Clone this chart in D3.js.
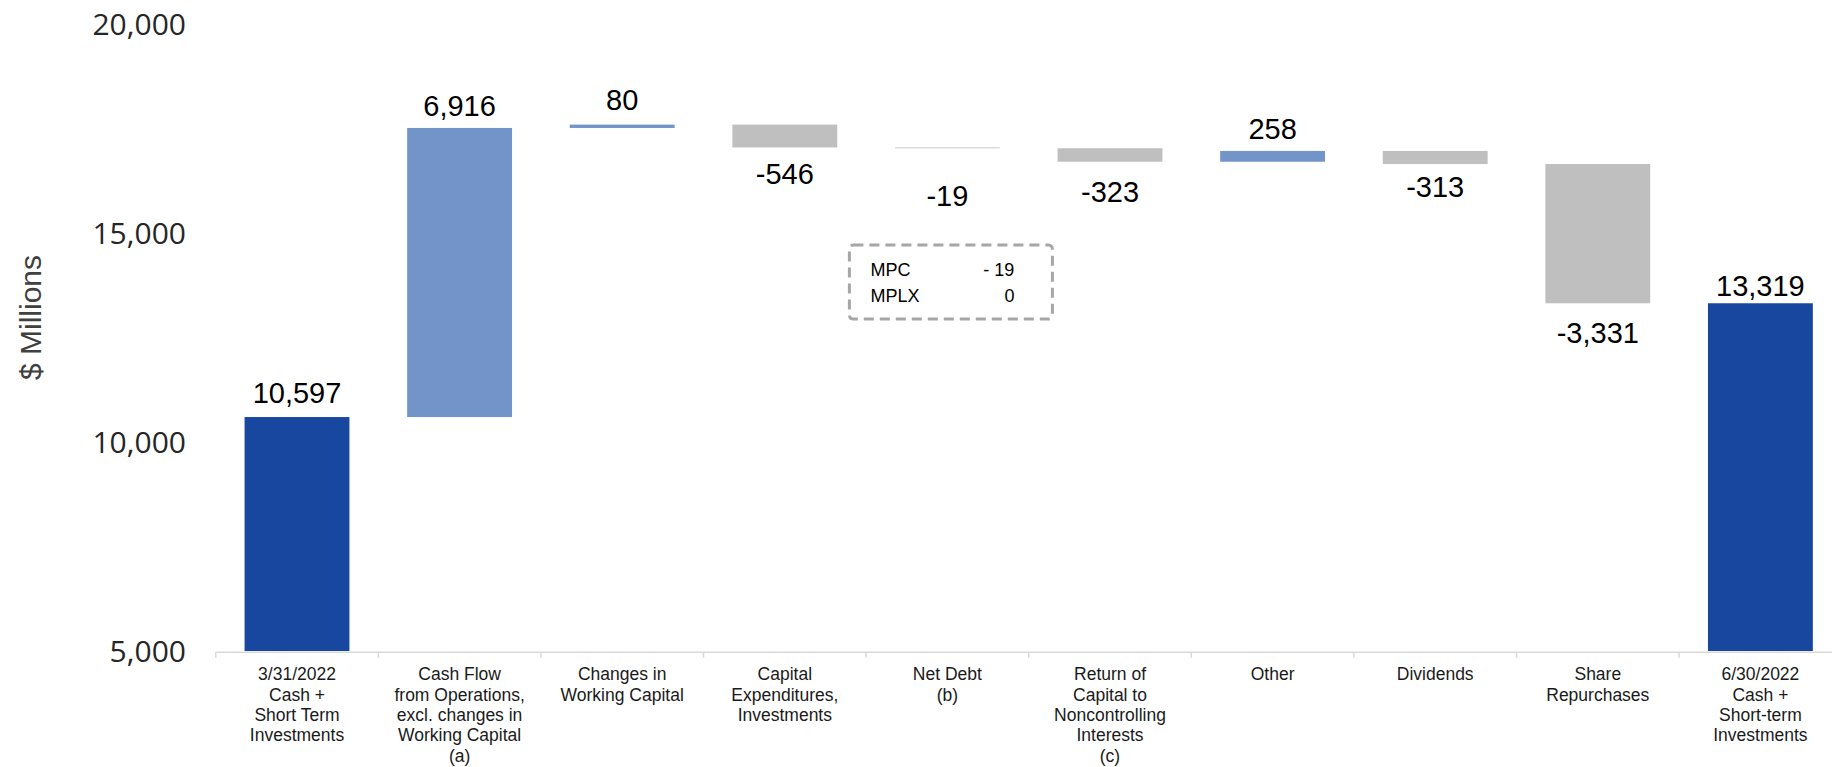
<!DOCTYPE html>
<html>
<head>
<meta charset="utf-8">
<script src="https://cdn.jsdelivr.net/npm/d3@7/dist/d3.min.js"></script>
<style>
  html, body { margin: 0; padding: 0; background: #ffffff; }
  svg { display: block; }
</style>
</head>
<body>
<svg id="chart" width="1832" height="767"></svg>
<script>
// Cash bridge, $ millions
const categoryLabels = [
  ["3/31/2022", "Cash +", "Short Term", "Investments"],
  ["Cash Flow", "from Operations,", "excl. changes in", "Working Capital", "(a)"],
  ["Changes in", "Working  Capital"],
  ["Capital", "Expenditures,", "Investments"],
  ["Net Debt", "(b)"],
  ["Return of", "Capital to", "Noncontrolling", "Interests", "(c)"],
  ["Other"],
  ["Dividends"],
  ["Share", "Repurchases"],
  ["6/30/2022", "Cash +", "Short-term", "Investments"]
];
const barKinds = ["total", "delta", "delta", "delta", "delta", "delta", "delta", "delta", "delta", "total"];
const barValues = [10597, 6916, 80, -546, -19, -323, 258, -313, -3331, 13319];
const yTickValues = [5000, 10000, 15000, 20000];
const netDebtRows = [["MPC", "- 19"], ["MPLX", "0"]];

const colors = { total: "#17479E", up: "#7294C8", down: "#BFBFBF" };

const svg = d3.select("#chart");

const fmt = d3.formatLocale({ decimal: ".", thousands: ",", grouping: [3], currency: ["$", ""], minus: "-" }).format(",");

const idx = d3.range(barValues.length);
const x = d3.scaleBand()
  .domain(idx)
  .range([215.7, 215.7 + 162.6 * idx.length])
  .paddingInner(0.355)
  .paddingOuter(0.1775);

const y = d3.scaleLinear().domain([5000, 20000]).range([651, 24]);

// running totals for the waterfall
let running = 0;
const bars = idx.map(i => {
  const v = barValues[i];
  const kind = barKinds[i];
  let lo, hi;
  if (kind === "total") {
    lo = y.domain()[0]; hi = v; running = v;
  } else {
    const start = running;
    running = start + v;
    lo = Math.min(start, running); hi = Math.max(start, running);
  }
  const fill = kind === "total" ? colors.total : (v >= 0 ? colors.up : colors.down);
  return { i, v, kind, lo, hi, fill };
});

// y axis (labels only)
const yAxis = svg.append("g")
  .attr("transform", "translate(186,0)")
  .call(d3.axisLeft(y).tickValues(yTickValues).tickFormat(fmt).tickSize(0).tickPadding(0));
yAxis.select(".domain").remove();
yAxis.selectAll("text")
  .attr("font-family", "'Open Sans', sans-serif")
  .attr("font-size", 30)
  .attr("fill", "#262626")
  .attr("dy", "0.36em");

// y axis title
svg.append("text")
  .attr("transform", "translate(41,317.5) rotate(-90)")
  .attr("text-anchor", "middle")
  .attr("font-family", "'Liberation Sans', Arial, sans-serif")
  .attr("font-size", 30)
  .attr("fill", "#404040")
  .text("$ Millions");

// x axis
const xAxis = svg.append("g")
  .attr("transform", `translate(0,${y(5000) + 0.7})`)
  .call(d3.axisBottom(x).tickSize(0).tickSizeOuter(0).tickFormat(() => ""));
xAxis.select(".domain").attr("stroke", "#D9D9D9").attr("stroke-width", 1.5);

// boundary ticks between categories
const step = x.step();
const boundaries = d3.range(idx.length + 1).map(k => x.range()[0] + k * step);
xAxis.selectAll("line.boundary")
  .data(boundaries)
  .join("line")
  .attr("class", "boundary")
  .attr("x1", d => d).attr("x2", d => d)
  .attr("y1", 0).attr("y2", 6)
  .attr("stroke", "#D9D9D9")
  .attr("stroke-width", 1.5);

// multi-line category labels
xAxis.selectAll(".tick").each(function (d) {
  const t = d3.select(this).select("text")
    .attr("y", 0).attr("dy", null)
    .attr("font-family", "'Liberation Sans', Arial, sans-serif")
    .attr("font-size", 17.5)
    .attr("fill", "#1a1a1a")
    .attr("text-anchor", "middle");
  t.text(null);
  categoryLabels[d].forEach((line, k) => {
    t.append("tspan")
      .attr("x", 0)
      .attr("y", 28.5 + k * 20.4)
      .text(line);
  });
});

// bars
svg.append("g")
  .selectAll("rect")
  .data(bars)
  .join("rect")
  .attr("x", d => x(d.i))
  .attr("width", x.bandwidth())
  .attr("y", d => y(d.hi))
  .attr("height", d => Math.max(0.8, y(d.lo) - y(d.hi)))
  .attr("fill", d => d.fill);

// value labels: above rising / total bars, below falling bars
const labelNudge = { 0: -2, 2: -3, 3: -3, 4: 18, 7: -7, 9: 5 };
svg.append("g")
  .selectAll("text")
  .data(bars)
  .join("text")
  .attr("x", d => x(d.i) + x.bandwidth() / 2)
  .attr("y", d => {
    const base = (d.kind === "total" || d.v >= 0) ? y(d.hi) - 12 : y(d.lo) + 40;
    return base + (labelNudge[d.i] || 0);
  })
  .attr("text-anchor", "middle")
  .attr("font-family", "'Liberation Sans', Arial, sans-serif")
  .attr("font-size", 29)
  .attr("fill", "#000")
  .text(d => fmt(d.v));

// Net Debt breakdown callout
const netIdx = 4;
const boxW = 203, boxTop = y(14713), boxBottom = y(12940);
const boxLeft = x(netIdx) + x.bandwidth() / 2 - boxW / 2 + 3.5;
const callout = svg.append("g").attr("transform", `translate(${boxLeft},${boxTop})`);
callout.append("rect")
  .attr("width", boxW)
  .attr("height", boxBottom - boxTop)
  .attr("rx", 4)
  .attr("fill", "none")
  .attr("stroke", "#A6A6A6")
  .attr("stroke-width", 3)
  .attr("stroke-dasharray", "10,6");
netDebtRows.forEach((row, k) => {
  const by = 31 + k * 25.7;
  callout.append("text")
    .attr("x", 21).attr("y", by)
    .attr("font-family", "'Liberation Sans', Arial, sans-serif")
    .attr("font-size", 18).attr("fill", "#000")
    .text(row[0]);
  callout.append("text")
    .attr("x", boxW - 38).attr("y", by)
    .attr("text-anchor", "end")
    .attr("font-family", "'Liberation Sans', Arial, sans-serif")
    .attr("font-size", 18).attr("fill", "#000")
    .text(row[1]);
});
</script>
</body>
</html>
